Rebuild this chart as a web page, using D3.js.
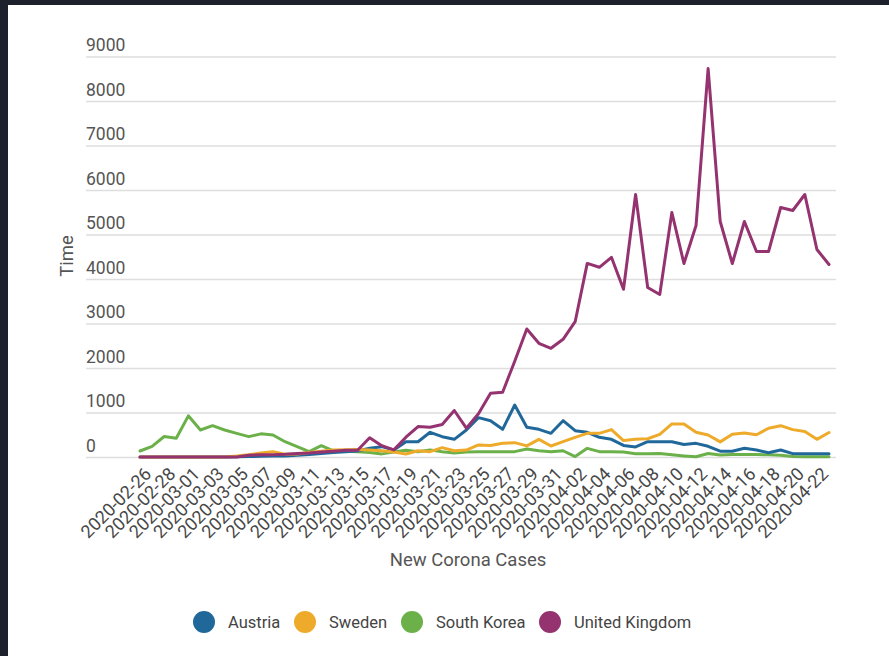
<!DOCTYPE html>
<html>
<head>
<meta charset="utf-8">
<script src="https://cdn.jsdelivr.net/npm/d3@7"></script>
<style>
  html, body { margin: 0; padding: 0; background: #1c212b; }
  svg { display: block; }
</style>
</head>
<body>
<svg id="chart" width="889" height="656"></svg>
<script>
const dates = [
  "2020-02-26","2020-02-27","2020-02-28","2020-02-29",
  "2020-03-01","2020-03-02","2020-03-03","2020-03-04","2020-03-05","2020-03-06","2020-03-07","2020-03-08",
  "2020-03-09","2020-03-10","2020-03-11","2020-03-12","2020-03-13","2020-03-14","2020-03-15","2020-03-16",
  "2020-03-17","2020-03-18","2020-03-19","2020-03-20","2020-03-21","2020-03-22","2020-03-23","2020-03-24",
  "2020-03-25","2020-03-26","2020-03-27","2020-03-28","2020-03-29","2020-03-30","2020-03-31",
  "2020-04-01","2020-04-02","2020-04-03","2020-04-04","2020-04-05","2020-04-06","2020-04-07","2020-04-08",
  "2020-04-09","2020-04-10","2020-04-11","2020-04-12","2020-04-13","2020-04-14","2020-04-15","2020-04-16",
  "2020-04-17","2020-04-18","2020-04-19","2020-04-20","2020-04-21","2020-04-22","2020-04-23"
];

const xTickLabels = [
  "2020-02-26","2020-02-28","2020-03-01","2020-03-03","2020-03-05","2020-03-07","2020-03-09","2020-03-11",
  "2020-03-13","2020-03-15","2020-03-17","2020-03-19","2020-03-21","2020-03-23","2020-03-25","2020-03-27",
  "2020-03-29","2020-03-31","2020-04-02","2020-04-04","2020-04-06","2020-04-08","2020-04-10","2020-04-12",
  "2020-04-14","2020-04-16","2020-04-18","2020-04-20","2020-04-22"
];

const yTicks = [0, 1000, 2000, 3000, 4000, 5000, 6000, 7000, 8000, 9000];

const austria = [0,0,0,0,0,0,0,0,5,10,15,20,25,40,55,80,100,120,135,195,232,157,344,344,555,457,397,607,884,816,622,1169,667,622,532,816,592,555,442,397,260,225,344,344,344,280,307,240,130,130,195,157,97,157,75,75,75,75];
const sweden = [0,0,0,0,0,0,0,0,20,50,90,120,60,70,100,130,160,165,170,157,142,110,67,142,120,210,142,157,270,260,307,322,250,397,247,344,442,532,532,615,370,400,410,510,742,742,555,494,340,510,540,500,645,704,615,575,397,550];
const southKorea = [135,240,460,420,925,607,704,607,532,457,520,494,344,232,120,254,140,130,120,100,70,110,150,120,160,120,90,110,120,120,120,120,180,140,120,140,10,195,120,120,110,75,75,80,50,25,5,80,45,55,55,55,50,40,10,8,8,8];
const unitedKingdom = [0,0,0,0,0,0,0,0,0,40,50,50,60,80,90,110,130,150,150,434,254,160,445,685,670,730,1045,647,971,1434,1456,2150,2876,2555,2443,2645,3040,4350,4263,4488,3768,5899,3809,3652,5494,4348,5202,8730,5292,4348,5292,4618,4618,5607,5539,5899,4663,4326];

const seriesNames = ["Austria", "Sweden", "South Korea", "United Kingdom"];
const seriesColors = ["#20689a", "#eeab2b", "#6cb04a", "#943370"];
const seriesValues = [austria, sweden, southKorea, unitedKingdom];
const drawOrder = [2, 0, 1, 3];

const svg = d3.select("#chart");
const FONT = "Roboto, 'Noto Sans', sans-serif";

// white panel inside dark frame
svg.append("rect").attr("x", 8).attr("y", 5).attr("width", 881).attr("height", 651).attr("fill", "#ffffff");

const x = d3.scalePoint().domain(dates).range([140, 829]);
const y = d3.scaleLinear().domain([0, 9000]).range([457, 56.5]);

// y grid + labels
const yAxis = d3.axisLeft(y).tickValues(yTicks).tickSize(-750).tickFormat(d3.format("d"));
const gy = svg.append("g").attr("transform", "translate(86,0)").call(yAxis);
gy.select(".domain").remove();
gy.selectAll(".tick line").attr("stroke", "#dedede").attr("stroke-width", 1.5);
gy.selectAll(".tick text")
  .attr("x", 0).attr("dy", -6).attr("text-anchor", "start")
  .attr("fill", "#555").style("font-family", FONT).style("font-size", "17.5px");

// x axis labels
const xAxis = d3.axisBottom(x).tickValues(xTickLabels).tickSize(0);
const gx = svg.append("g").attr("transform", "translate(0,457)").call(xAxis);
gx.select(".domain").remove();
gx.selectAll(".tick text")
  .attr("text-anchor", "end")
  .attr("x", 0).attr("y", 0).attr("dy", 0)
  .attr("transform", "translate(12,18) rotate(-45)")
  .attr("fill", "#474747").style("font-family", FONT).style("font-size", "18px");

// lines
const line = d3.line().x((d, i) => x(dates[i])).y(d => y(d)).curve(d3.curveLinear);
drawOrder.forEach(k => {
  svg.append("path")
    .datum(seriesValues[k])
    .attr("d", line)
    .attr("fill", "none")
    .attr("stroke", seriesColors[k])
    .attr("stroke-width", 3)
    .attr("stroke-linejoin", "round")
    .attr("stroke-linecap", "round");
});

// axis titles
svg.append("text")
  .attr("transform", "translate(73,256) rotate(-90)")
  .attr("text-anchor", "middle")
  .attr("fill", "#555").style("font-family", FONT).style("font-size", "18.5px")
  .text("Time");

svg.append("text")
  .attr("x", 468).attr("y", 566)
  .attr("text-anchor", "middle")
  .attr("fill", "#555").style("font-family", FONT).style("font-size", "18.5px")
  .text("New Corona Cases");

// legend
const legendX = [204, 305, 412, 550];
const lg = svg.append("g");
seriesNames.forEach((name, k) => {
  lg.append("circle").attr("cx", legendX[k]).attr("cy", 622).attr("r", 11).attr("fill", seriesColors[k]);
  lg.append("text").attr("x", legendX[k] + 24).attr("y", 628)
    .attr("fill", "#444").style("font-family", FONT).style("font-size", "16.5px")
    .text(name);
});
</script>
</body>
</html>
